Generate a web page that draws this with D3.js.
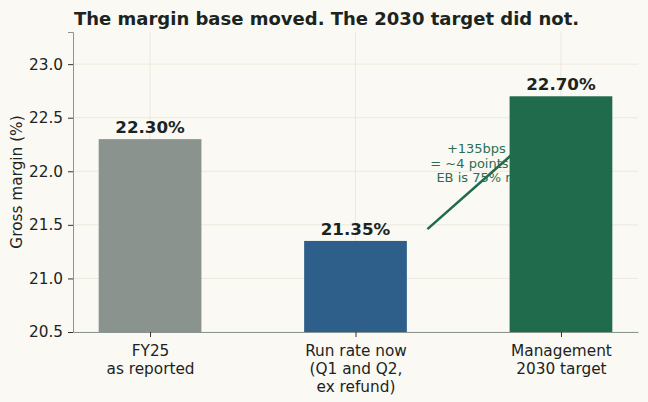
<!DOCTYPE html>
<html><head><meta charset="utf-8">
<script src="https://cdn.jsdelivr.net/npm/d3@7"></script>
<style>body{margin:0;background:#faf9f4}svg{display:block}</style>
</head><body>
<svg id="c" width="648" height="402"></svg>
<script>
const categories = [["FY25","as reported"],["Run rate now","(Q1 and Q2,","ex refund)"],["Management","2030 target"]];
const values = [22.30, 21.35, 22.70];
const valueLabels = ["22.30%","21.35%","22.70%"];
const barColors = ["#8a938d","#2d5f8a","#1f6b4c"];
const yTicks = [20.5,21.0,21.5,22.0,22.5,23.0];
const yTickLabels = ["20.5","21.0","21.5","22.0","22.5","23.0"];
const annotationLines = ["+135bps needed","= ~4 points of margin","EB is 75% rev. share"];
const arrowFrom = [1.35, 21.46];
const arrowTo = [2.0, 22.56];
const annotationAt = [1.717, 22.17];

const W = 648, H = 402;
const m = {l:73, r:10, t:32, b:70};
const svg = d3.select("#c");
svg.append("rect").attr("width",W).attr("height",H).attr("fill","#faf9f4");
const font = "DejaVu Sans, sans-serif";
const tickFont = 15.3;
const x = d3.scaleLinear().domain([-0.375, 2.375]).range([m.l, W-m.r]);
const y = d3.scaleLinear().domain([20.5, 23.3]).range([H-m.b, m.t]);
const barW = 0.5;
const idx = values.map((d,i)=>i);

// grid
const g = svg.append("g");
g.selectAll(".hg").data(yTicks).join("line")
  .attr("x1",x.range()[0]).attr("x2",x.range()[1])
  .attr("y1",d=>y(d)).attr("y2",d=>y(d))
  .attr("stroke","#e9e5d6").attr("stroke-width",0.8);
g.selectAll(".vg").data(idx).join("line")
  .attr("x1",d=>x(d)).attr("x2",d=>x(d))
  .attr("y1",y.range()[0]).attr("y2",y.range()[1])
  .attr("stroke","#e9e5d6").attr("stroke-width",0.8);

// annotation (behind bars)
svg.append("line")
  .attr("x1",x(arrowFrom[0])).attr("y1",y(arrowFrom[1]))
  .attr("x2",x(arrowTo[0])).attr("y2",y(arrowTo[1]))
  .attr("stroke","#1f6b4c").attr("stroke-width",2.5);
const at = svg.append("text").attr("font-family",font).attr("font-size",13)
  .attr("fill","#2a6e52").attr("text-anchor","middle");
at.selectAll("tspan").data(annotationLines).join("tspan")
  .attr("x",x(annotationAt[0])).attr("y",(d,i)=>y(annotationAt[1]) + i*14.7)
  .text(d=>d);

// bars
svg.selectAll(".bar").data(values).join("rect")
  .attr("x",(d,i)=>x(i-barW/2)).attr("width",x(barW)-x(0))
  .attr("y",d=>y(d)).attr("height",d=>y(20.5)-y(d))
  .attr("fill",(d,i)=>barColors[i]);

// value labels
svg.selectAll(".vl").data(values).join("text")
  .attr("x",(d,i)=>x(i)).attr("y",d=>y(d)-6)
  .attr("text-anchor","middle").attr("font-family",font)
  .attr("font-weight","bold").attr("font-size",16.7).attr("fill","#1c2421")
  .text((d,i)=>valueLabels[i]);

// axes
const yAxis = d3.axisLeft(y).tickValues(yTicks).tickFormat((d,i)=>yTickLabels[i]).tickSize(5).tickPadding(5);
const ya = svg.append("g").attr("transform",`translate(${m.l},0)`).call(yAxis);
ya.select(".domain").attr("stroke","#8a9490").attr("stroke-width",1);
ya.selectAll(".tick line").attr("stroke","#333");
ya.selectAll(".tick text").attr("font-family",font).attr("font-size",tickFont).attr("fill","#1c2421");

const xAxis = d3.axisBottom(x).tickValues(idx).tickFormat("").tickSize(5).tickSizeOuter(0);
const xa = svg.append("g").attr("transform",`translate(0,${y.range()[0]})`).call(xAxis);
xa.select(".domain").attr("stroke","#8a9490").attr("stroke-width",1);
xa.selectAll(".tick line").attr("stroke","#333");
xa.selectAll(".tick").each(function(d){
  const t = d3.select(this).append("text").attr("font-family",font).attr("font-size",tickFont)
    .attr("fill","#1c2421").attr("text-anchor","middle");
  categories[d].forEach((s,k)=>t.append("tspan").attr("x",0).attr("y",23.5+k*18.3).text(s));
});

// y label
svg.append("text").attr("transform",`translate(22,${(y.range()[0]+y.range()[1])/2}) rotate(-90)`)
  .attr("text-anchor","middle").attr("font-family",font).attr("font-size",tickFont).attr("fill","#1c2421")
  .text("Gross margin (%)");

// title
svg.append("text").attr("x",m.l+1).attr("y",24.5).attr("font-family",font).attr("font-weight","bold")
  .attr("font-size",18).attr("fill","#1c2421").text("The margin base moved. The 2030 target did not.");
</script>
</body></html>
